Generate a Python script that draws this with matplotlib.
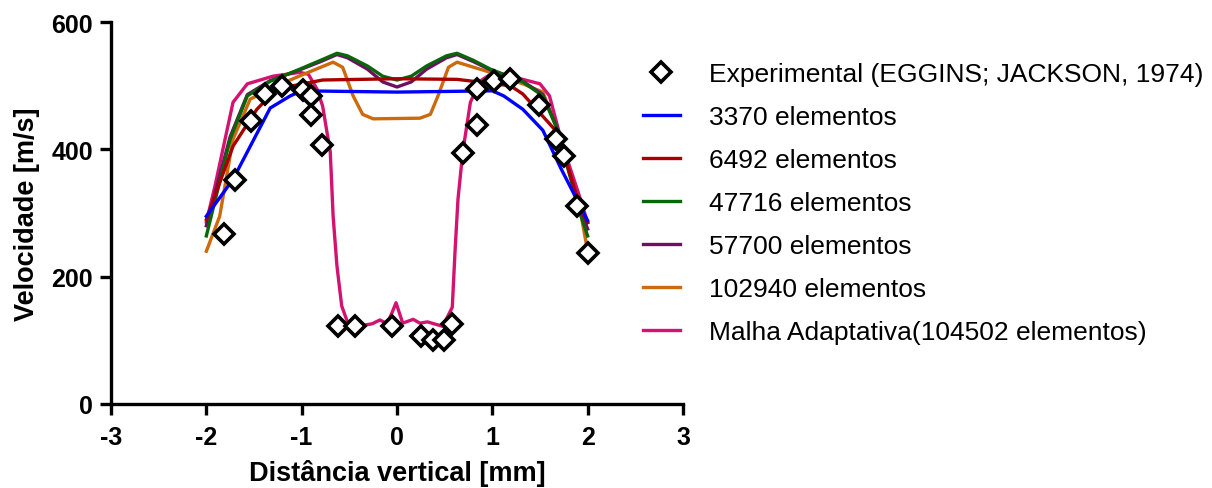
#!/usr/bin/env python
# Velocity profile: mesh comparison vs experimental data

import matplotlib
matplotlib.use('Agg')
import matplotlib.pyplot as plt

plt.rcParams['font.family'] = ['Liberation Sans', 'DejaVu Sans']
plt.rcParams['axes.unicode_minus'] = False

# Experimental (EGGINS; JACKSON, 1974)
x_exp = [-1.82, -1.70, -1.53, -1.38, -1.21, -0.99, -0.90, -0.90, -0.79,
         -0.62, -0.44, -0.05, 0.25, 0.38, 0.49, 0.58, 0.69, 0.84, 0.84,
         1.02, 1.19, 1.49, 1.67, 1.75, 1.89, 2.00]
y_exp = [267, 352, 445, 487, 500, 493, 484, 454, 407,
         122, 122, 122, 107, 100, 100, 126, 394, 438, 495,
         507, 510, 470, 416, 390, 311, 237]

# 3370 elementos
x_3370 = [-2.0, -1.72, -1.33, -1.12, -1.0, 0.0, 1.0, 1.12, 1.32, 1.53, 1.72, 2.0]
y_3370 = [295, 353, 465, 484, 492, 490, 492, 484, 463, 430, 370, 288]

# 6492 elementos
x_6492 = [-2.0, -1.72, -1.47, -1.26, -0.78, 0.0, 0.63, 1.19, 1.32, 1.68, 1.94, 2.0]
y_6492 = [290, 405, 463, 495, 509, 511, 510, 500, 487, 427, 300, 285]

# 47716 elementos
x_47716 = [-2.0, -1.75, -1.57, -1.33, -1.02, -0.8, -0.63, -0.52, -0.31, -0.15, 0.0,
           0.15, 0.31, 0.52, 0.63, 0.8, 0.98, 1.32, 1.53, 1.68, 1.92, 2.0]
y_47716 = [264, 416, 484, 507, 526, 540, 551, 547, 531, 515, 509,
           515, 531, 547, 551, 540, 526, 506, 484, 432, 300, 264]

# 57700 elementos
x_57700 = [-2.0, -1.75, -1.57, -1.33, -1.02, -0.8, -0.63, -0.52, -0.31, -0.15, 0.0,
           0.15, 0.31, 0.52, 0.63, 0.8, 0.98, 1.32, 1.53, 1.68, 1.92, 2.0]
y_57700 = [280, 420, 486, 508, 525, 538, 549, 544, 526, 506, 498,
           506, 526, 544, 549, 538, 525, 507, 486, 434, 305, 275]

# 102940 elementos
x_102940 = [-2.0, -1.86, -1.72, -1.54, -1.26, -0.98, -0.67, -0.57, -0.46, -0.36, -0.25,
            0.24, 0.35, 0.43, 0.54, 0.63, 0.98, 1.32, 1.53, 1.68, 1.92, 2.0]
y_102940 = [240, 295, 416, 479, 500, 518, 537, 529, 484, 455, 448,
            449, 455, 484, 529, 537, 521, 503, 490, 432, 306, 240]

# Malha Adaptativa (104502 elementos)
x_adapt = [-2.0, -1.91, -1.72, -1.57, -1.30, -1.02, -0.93, -0.84, -0.78, -0.70, -0.67,
           -0.63, -0.58, -0.52, -0.42, -0.26, -0.18, -0.10, -0.01, 0.06, 0.17, 0.24,
           0.32, 0.48, 0.58, 0.61, 0.64, 0.69, 0.77, 0.87, 0.98, 1.32, 1.50, 1.60,
           1.74, 1.90, 2.0]
y_adapt = [286, 342, 474, 503, 515, 521, 518, 495, 468, 396, 295,
           217, 154, 129, 122, 126, 132, 126, 159, 127, 133, 127,
           129, 122, 152, 243, 322, 396, 474, 507, 518, 510, 503, 484,
           405, 333, 285]

fig = plt.figure(figsize=(12.12, 4.89), dpi=100)
ax1 = fig.add_axes([0.0916, 0.1718, 0.4719, 0.781])

lw = 2.4
ax1.plot(x_adapt, y_adapt, color='#D4126F', lw=lw, label='Malha Adaptativa(104502 elementos)', zorder=2)
ax1.plot(x_102940, y_102940, color='#CC6A0C', lw=lw, label='102940 elementos', zorder=3)
ax1.plot(x_57700, y_57700, color='#6E0F62', lw=lw, label='57700 elementos', zorder=4)
ax1.plot(x_47716, y_47716, color='#0A660A', lw=lw, label='47716 elementos', zorder=5)
ax1.plot(x_6492, y_6492, color='#A80000', lw=lw, label='6492 elementos', zorder=6)
ax1.plot(x_3370, y_3370, color='#0000FF', lw=lw, label='3370 elementos', zorder=7)
ax1.plot(x_exp, y_exp, ls='none', marker='D', ms=10, mfc='white', mec='black', mew=2.6,
         label='Experimental (EGGINS; JACKSON, 1974)', zorder=10, clip_on=False)

ax1.set_xlim(-3, 3)
ax1.set_ylim(0, 600)
ax1.set_xticks([-3, -2, -1, 0, 1, 2, 3])
ax1.set_yticks([0, 200, 400, 600])

for s in ['top', 'right']:
    ax1.spines[s].set_visible(False)
for s in ['left', 'bottom']:
    ax1.spines[s].set_linewidth(2.4)
ax1.tick_params(width=2.4, length=8, labelsize=18, pad=5)
ax1.tick_params(axis='x', pad=7)
for t in ax1.get_xticklabels() + ax1.get_yticklabels():
    t.set_fontweight('bold')

ax1.set_xlabel('Distância vertical [mm]', fontsize=19.5, fontweight='bold', labelpad=7)
ax1.set_ylabel('Velocidade [m/s]', fontsize=19.5, fontweight='bold', labelpad=8)

# Legend in the order of the reference
h, l = ax1.get_legend_handles_labels()
order = [6, 5, 4, 3, 2, 1, 0]
fig.legend([h[i] for i in order], [l[i] for i in order],
           loc='upper left', bbox_to_anchor=(0.5305, 0.871), frameon=False,
           borderpad=0, borderaxespad=0,
           fontsize=19, handlelength=1.4, handletextpad=1.1, labelspacing=0.72)

plt.savefig('out.png', dpi=100)
